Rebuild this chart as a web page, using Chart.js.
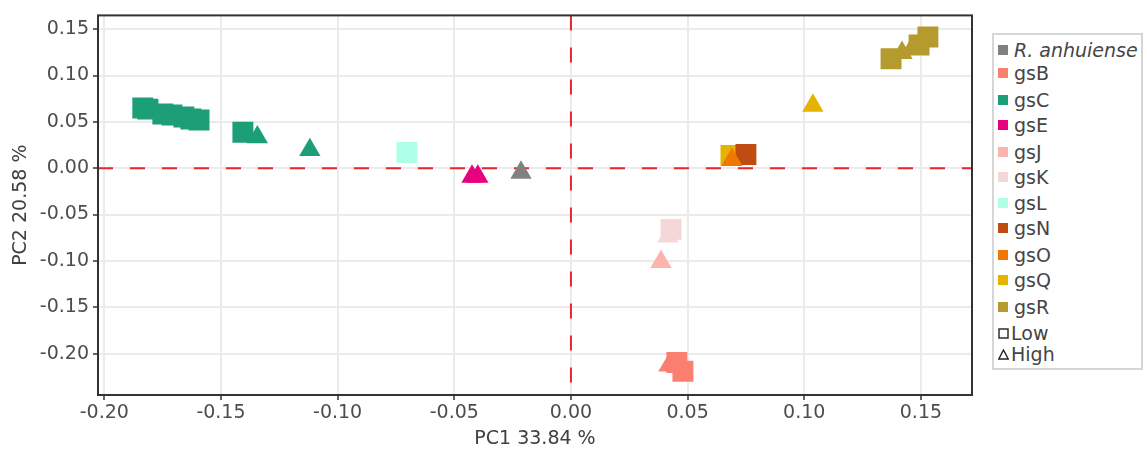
<!DOCTYPE html>
<html>
<head>
<meta charset="utf-8">
<script src="https://cdn.jsdelivr.net/npm/chart.js@4.4.1/dist/chart.umd.min.js"></script>
<style>
html,body{margin:0;padding:0;background:#fff;}
#wrap{position:relative;width:1147px;height:452px;}
#legend{position:absolute;left:992px;top:33px;width:147px;height:333px;border:2px solid #D6D6D6;background:#fff;font-family:'DejaVu Sans',sans-serif;font-size:19px;color:#454545;}
.row{position:absolute;left:4px;height:22px;display:flex;align-items:center;white-space:nowrap;}
.sw{display:inline-block;width:10px;height:10px;margin-right:6px;}
</style>
</head>
<body>
<div id="wrap">
<canvas id="c" width="1147" height="452"></canvas>
<div id="legend"></div>
</div>
<script>
// ---- data ----
const groups = ['R. anhuiense','gsB','gsC','gsE','gsJ','gsK','gsL','gsN','gsO','gsQ','gsR'];
const levels = ['Low','High'];
const xTicks = [-0.20,-0.15,-0.10,-0.05,0.00,0.05,0.10,0.15];
const yTicks = [-0.20,-0.15,-0.10,-0.05,0.00,0.05,0.10,0.15];
const pointGroup = ['R. anhuiense','gsB','gsB','gsB',
  'gsC','gsC','gsC','gsC','gsC','gsC','gsC','gsC','gsC','gsC',
  'gsE','gsE','gsJ','gsK','gsK','gsL','gsN','gsN','gsO','gsQ','gsQ',
  'gsR','gsR','gsR','gsR','gsR'];
const pointLevel = ['High','Low','Low','High',
  'Low','Low','Low','Low','Low','Low','Low','Low','High','High',
  'High','High','High','Low','High','Low','Low','High','High','Low','High',
  'Low','Low','Low','High','High'];
const pc1 = [-0.0214,0.0454,0.0480,0.0420,
  -0.1835,-0.1813,-0.1749,-0.1710,-0.1659,-0.1629,-0.1594,-0.1406,-0.1344,-0.1119,
  -0.0424,-0.0399,0.0386,0.0429,0.0416,-0.0703,0.0750,0.0740,0.0690,0.0686,0.1037,
  0.1372,0.1492,0.1530,0.1419,0.1466];
const pc2 = [-0.0048,-0.2096,-0.2191,-0.2128,
  0.0649,0.0638,0.0585,0.0574,0.0553,0.0532,0.0521,0.0388,0.0335,0.0197,
  -0.0090,-0.0090,-0.1010,-0.0660,-0.0734,0.0170,0.0149,0.0122,0.0090,0.0138,0.0676,
  0.1181,0.1330,0.1415,0.1245,0.1309];

// ---- styles ----
const groupColors = ['#808080','#FA7F6F','#1C9E77','#E8007F','#FBB4AE','#F5D7D7','#ADFFE6','#BF4C10','#F07800','#E6B400','#B59A2E'];
const drawOrder = ['R. anhuiense','gsB','gsC','gsE','gsJ','gsK','gsL','gsQ','gsN','gsO','gsR'];
const shapeStyle = {Low:'rect', High:'triangle'};
const shapeRadius = {Low:14.8, High:12.3};

const datasets = groups.map((g,gi)=>{
  const idx = pointGroup.map((pg,i)=>pg===g?i:-1).filter(i=>i>=0);
  return {
    label:g,
    data: idx.map(i=>({x:pc1[i], y:pc2[i]})),
    pointStyle: idx.map(i=>shapeStyle[pointLevel[i]]),
    pointRadius: idx.map(i=>shapeRadius[pointLevel[i]]),
    backgroundColor: groupColors[gi],
    borderColor: groupColors[gi],
    pointBorderWidth: 0,
    order: -drawOrder.indexOf(g)
  };
});

const refLines = {
  id:'refLines',
  beforeDatasetsDraw(chart){
    const {ctx, chartArea:a, scales:{x,y}} = chart;
    const x0 = x.getPixelForValue(0), y0 = y.getPixelForValue(0);
    ctx.save();
    ctx.strokeStyle = '#E8262B'; ctx.lineWidth = 2; ctx.setLineDash([15,17]);
    ctx.beginPath(); ctx.moveTo(a.left,y0); ctx.lineTo(a.right,y0); ctx.stroke();
    ctx.beginPath(); ctx.moveTo(x0,a.top); ctx.lineTo(x0,a.bottom); ctx.stroke();
    ctx.restore();
  },
  afterDatasetsDraw(chart){
    const {ctx, chartArea:a} = chart;
    ctx.save();
    ctx.strokeStyle = '#333333'; ctx.lineWidth = 2;
    ctx.strokeRect(a.left, a.top, a.right-a.left, a.bottom-a.top);
    ctx.restore();
  }
};

const tickFont = {family:'DejaVu Sans', size:19};
const titleFont = {family:'DejaVu Sans', size:19};

new Chart(document.getElementById('c'), {
  type:'scatter',
  data:{datasets},
  plugins:[refLines],
  options:{
    responsive:false,
    animation:false,
    layout:{padding:{left:0,right:175,top:10,bottom:0}},
    plugins:{legend:{display:false}, tooltip:{enabled:false}},
    scales:{
      x:{
        type:'linear', min:-0.2027, max:0.1719,
        afterBuildTicks:s=>{s.ticks = xTicks.map(v=>({value:v}));},
        afterFit:s=>{s.height = 57;},
        ticks:{font:tickFont, color:'#4D4D4D', padding:2, maxRotation:0, autoSkip:false, callback:v=>Number(v).toFixed(2)},
        grid:{color:'#EBEBEB', lineWidth:2, tickColor:'#333333', tickLength:5, tickWidth:1.5},
        border:{display:false},
        title:{display:true, text:'PC1 33.84 %', font:titleFont, color:'#404040', padding:{top:0,bottom:2}}
      },
      y:{
        type:'linear', min:-0.2447, max:0.1649,
        afterBuildTicks:s=>{s.ticks = yTicks.map(v=>({value:v}));},
        afterFit:s=>{s.width = 98;},
        ticks:{font:tickFont, color:'#4D4D4D', padding:4, autoSkip:false, callback:v=>Number(v).toFixed(2)},
        grid:{color:'#EBEBEB', lineWidth:2, tickColor:'#333333', tickLength:5, tickWidth:1.5},
        border:{display:false},
        title:{display:true, text:'PC2 20.58 %', font:titleFont, color:'#404040', padding:{top:10,bottom:0}}
      }
    }
  }
});

// ---- HTML legend ----
const legend = document.getElementById('legend');
const rowCenters = [50,73,100,125,152,177,203,228,255,280,307];
groups.forEach((g,gi)=>{
  const r = document.createElement('div');
  r.className='row';
  r.style.top = (rowCenters[gi]-35-11)+'px';
  const sw = document.createElement('span');
  sw.className='sw'; sw.style.background = groupColors[gi];
  const t = document.createElement('span');
  t.textContent = g;
  if (gi===0) t.style.fontStyle='italic';
  r.appendChild(sw); r.appendChild(t);
  legend.appendChild(r);
});
const levelCenters = [333,354];
levels.forEach((lv,li)=>{
  const r = document.createElement('div');
  r.className='row';
  r.style.top = (levelCenters[li]-35-11)+'px';
  const ns='http://www.w3.org/2000/svg';
  const svg = document.createElementNS(ns,'svg');
  svg.setAttribute('width','11'); svg.setAttribute('height','11');
  svg.style.marginRight='2px';
  const shp = document.createElementNS(ns, lv==='Low'?'rect':'polygon');
  if (lv==='Low'){ shp.setAttribute('x','1'); shp.setAttribute('y','1'); shp.setAttribute('width','9'); shp.setAttribute('height','9'); }
  else { shp.setAttribute('points','5.5,1 10.2,10 0.8,10'); }
  shp.setAttribute('fill','none'); shp.setAttribute('stroke','#222'); shp.setAttribute('stroke-width','1.4');
  svg.appendChild(shp);
  const t = document.createElement('span');
  t.textContent = lv;
  r.appendChild(svg); r.appendChild(t);
  legend.appendChild(r);
});
</script>
</body>
</html>
